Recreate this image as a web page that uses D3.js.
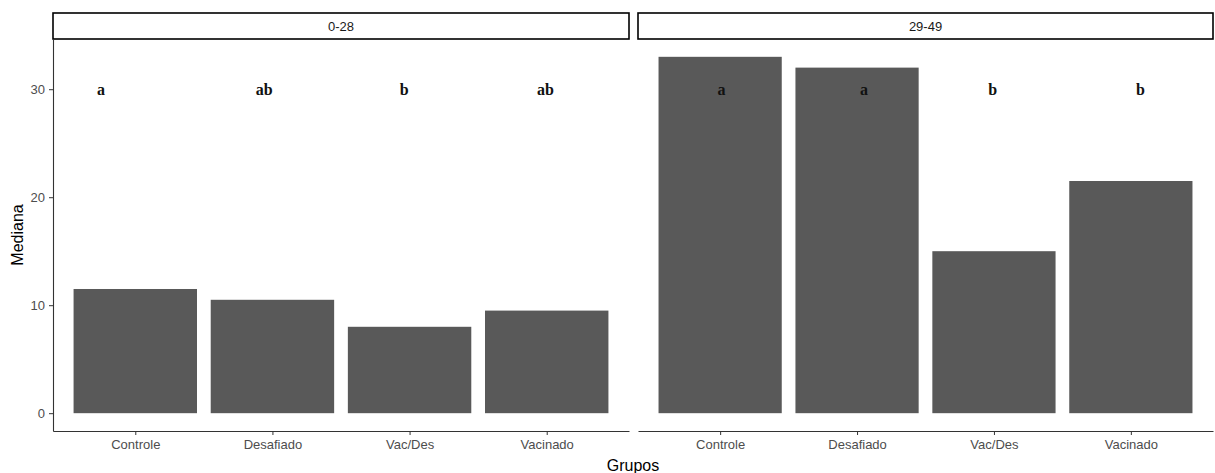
<!DOCTYPE html>
<html>
<head>
<meta charset="utf-8">
<script src="https://cdn.jsdelivr.net/npm/d3@7"></script>
<style>
  html, body { margin: 0; padding: 0; background: #fff; }
  svg { display: block; font-family: Arial, "Liberation Sans", sans-serif; }
</style>
</head>
<body>
<svg id="chart" width="1215" height="473"></svg>
<script>
// Median by group, faceted by age period
const groups = ["Controle", "Desafiado", "Vac/Des", "Vacinado"];
const periods = ["0-28", "29-49"];
const medians028 = [11.5, 10.5, 8, 9.5];
const medians2949 = [33, 32, 15, 21.5];
const letters028 = ["a", "ab", "b", "ab"];
const letters2949 = ["a", "a", "b", "b"];
// horizontal nudge of each letter, in category units
const nudge028 = [-0.25, -0.06, -0.04, -0.01];
const nudge2949 = [0.01, 0.05, -0.01, 0.07];
const letterY = 30;
const yTicks = [0, 10, 20, 30];

const facets = [
  { name: periods[0], values: medians028, letters: letters028, nudge: nudge028 },
  { name: periods[1], values: medians2949, letters: letters2949, nudge: nudge2949 }
];

const svg = d3.select("#chart");
const panelTop = 39, panelBottom = 431;
const panels = [[53, 629], [638, 1213]];
const tickFont = 13;

// shared y scale with 5% expansion on the data range [0, max]
const maxV = d3.max(facets.flatMap(f => f.values));
const pad = maxV * 0.05;
const y = d3.scaleLinear().domain([-pad, maxV + pad]).range([panelBottom, panelTop]);

facets.forEach((f, i) => {
  const [x0, x1] = panels[i];
  // discrete axis: 0.6 units of padding on each side
  const unit = (x1 - x0) / (groups.length - 1 + 1.2);
  const x = d3.scaleLinear().domain([0.4, groups.length + 0.6]).range([x0, x1]);
  const barW = 0.9 * unit;
  const g = svg.append("g");

  // bars
  g.selectAll("rect.bar").data(f.values).enter().append("rect")
    .attr("class", "bar")
    .attr("x", (d, j) => x(j + 1) - barW / 2)
    .attr("width", barW)
    .attr("y", d => y(d))
    .attr("height", d => y(0) - y(d))
    .attr("fill", "#595959");

  // significance letters
  g.selectAll("text.letter").data(f.letters).enter().append("text")
    .attr("class", "letter")
    .attr("x", (d, j) => x(j + 1 + f.nudge[j]))
    .attr("y", y(letterY))
    .attr("dy", "0.35em")
    .attr("text-anchor", "middle")
    .attr("font-family", "'Liberation Serif', 'Times New Roman', serif")
    .attr("font-weight", "bold")
    .attr("font-size", 16)
    .attr("fill", "#111")
    .text(d => d);

  // x axis
  const xAxis = d3.axisBottom(x).tickValues(groups.map((d, j) => j + 1))
    .tickFormat((d) => groups[d - 1]).tickSize(4).tickPadding(5).tickSizeOuter(0);
  const xg = g.append("g").attr("transform", `translate(0,${panelBottom})`).call(xAxis);
  xg.select(".domain").attr("stroke", "#333").attr("stroke-width", 1.1);
  xg.selectAll(".tick line").attr("stroke", "#333");
  xg.selectAll(".tick text").attr("fill", "#4d4d4d").attr("font-size", tickFont)
    .attr("font-family", "Arial, 'Liberation Sans', sans-serif");

  // strip
  g.append("rect")
    .attr("x", x0).attr("y", 13).attr("width", x1 - x0).attr("height", 26)
    .attr("fill", "#fff").attr("stroke", "#000").attr("stroke-width", 1.6);
  g.append("text")
    .attr("x", (x0 + x1) / 2).attr("y", 26).attr("dy", "0.35em")
    .attr("text-anchor", "middle").attr("font-size", 13).attr("fill", "#1a1a1a")
    .text(f.name);
});

// y axis on the left panel only
const yAxis = d3.axisLeft(y).tickValues(yTicks).tickSize(4).tickPadding(4).tickSizeOuter(0);
const yg = svg.append("g").attr("transform", `translate(${panels[0][0]},0)`).call(yAxis);
yg.select(".domain").attr("stroke", "#333").attr("stroke-width", 1.1);
yg.selectAll(".tick line").attr("stroke", "#333");
yg.selectAll(".tick text").attr("fill", "#4d4d4d").attr("font-size", tickFont)
  .attr("font-family", "Arial, 'Liberation Sans', sans-serif");

// axis titles
svg.append("text")
  .attr("x", (panels[0][0] + panels[1][1]) / 2).attr("y", 471)
  .attr("text-anchor", "middle").attr("font-size", 16).attr("fill", "#000")
  .text("Grupos");
svg.append("text")
  .attr("transform", `translate(17,${(panelTop + panelBottom) / 2}) rotate(-90)`)
  .attr("text-anchor", "middle").attr("dy", "0.35em").attr("font-size", 16).attr("fill", "#000")
  .text("Mediana");
</script>
</body>
</html>
